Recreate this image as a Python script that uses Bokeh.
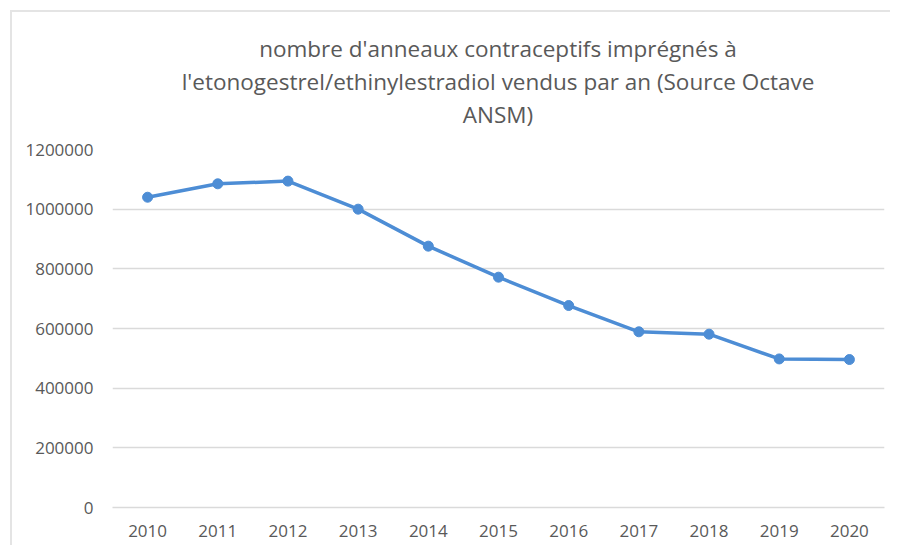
from bokeh.plotting import figure
from bokeh.models import Range1d, FixedTicker, BasicTickFormatter, Div
from bokeh.layouts import column
from bokeh.embed import file_html
from bokeh.resources import INLINE

years = ["2010", "2011", "2012", "2013", "2014", "2015", "2016", "2017", "2018", "2019", "2020"]
ventes = [1040000, 1085000, 1094000, 1000000, 876000, 772000, 677000, 589000, 581000, 498000, 496000]
y_ticks = [0, 200000, 400000, 600000, 800000, 1000000, 1200000]
title_lines = ["nombre d'anneaux contraceptifs imprégnés à",
               "l'etonogestrel/ethinylestradiol vendus par an (Source Octave",
               "ANSM)"]

FONT = "Open Sans"
GREY_TXT = "#595959"
BLUE = "#4d8dd5"

title_html = ('<div style="width:772px; padding-top:20px; text-align:center; font-family:\'Open Sans\'; '
              'font-size:22.5px; line-height:33px; color:%s; white-space:nowrap;">%s</div>'
              % (GREY_TXT, "<br>".join(title_lines)))
title_div = Div(text=title_html, width=772, height=123, margin=(0, 0, 0, 100))

p = figure(x_range=years, y_range=Range1d(0, 1200000),
           width=878, height=410, output_backend="svg", toolbar_location=None,
           min_border_left=100, min_border_right=6, min_border_top=14, min_border_bottom=38,
           background_fill_color="white", border_fill_color="white", margin=(0, 0, 0, 0))

p.outline_line_color = None
p.xgrid.grid_line_color = None
p.ygrid.grid_line_color = "#dadada"
p.ygrid.grid_line_width = 1.5
p.yaxis.ticker = FixedTicker(ticks=y_ticks)
p.yaxis.formatter = BasicTickFormatter(use_scientific=False)

p.yaxis.axis_line_color = None
p.yaxis.major_tick_line_color = None
p.yaxis.minor_tick_line_color = None
p.yaxis.major_tick_out = 0
p.yaxis.major_label_standoff = 19

p.xaxis.axis_line_color = "#dadada"
p.xaxis.axis_line_width = 1.5
p.xaxis.major_tick_line_color = None
p.xaxis.major_tick_out = 0
p.xaxis.major_label_standoff = 17

for ax in (p.xaxis, p.yaxis):
    ax.major_label_text_font = FONT
    ax.major_label_text_font_size = "17px"
    ax.major_label_text_color = GREY_TXT

p.line(years, ventes, line_color=BLUE, line_width=3.5)
p.scatter(years, ventes, size=10, fill_color=BLUE, line_color=BLUE)

layout = column(title_div, p, spacing=0, margin=(10, 0, 0, 10),
                styles={"border-left": "2px solid #e4e4e4", "border-top": "2px solid #e4e4e4"})

open("out.html", "w").write(file_html(layout, INLINE))
